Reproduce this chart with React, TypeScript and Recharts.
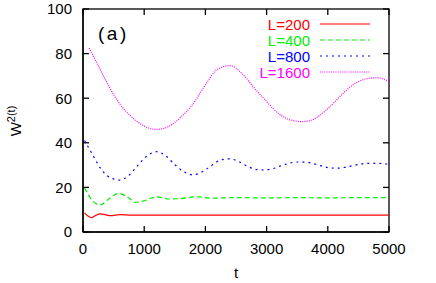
import { LineChart, Line, XAxis, YAxis } from "recharts";

const xTicks = [0, 1000, 2000, 3000, 4000, 5000];
const yTicks = [0, 20, 40, 60, 80, 100];

// L=200
const t200 = [25, 80, 140, 200, 280, 360, 450, 600, 800, 1000, 1500, 2000, 2500, 3000, 3500, 4000, 4500, 5000];
const w200 = [8.6, 7.2, 6.4, 7.3, 8.1, 7.8, 7.3, 7.8, 7.6, 7.6, 7.6, 7.6, 7.6, 7.6, 7.6, 7.6, 7.6, 7.6];

// L=400
const t400 = [25, 150, 280, 420, 580, 720, 860, 1000, 1200, 1400, 1600, 1850, 2100, 2500, 3000, 3500, 4000, 4500, 5000];
const w400 = [19.8, 14.2, 12.1, 14.8, 17.3, 15.8, 13.3, 14.0, 15.8, 14.8, 15.0, 15.8, 15.2, 15.4, 15.3, 15.4, 15.3, 15.4, 15.4];

// L=800
const t800 = [25, 150, 300, 450, 600, 750, 900, 1050, 1200, 1350, 1500, 1650, 1800, 1950, 2100, 2250, 2400, 2550, 2700, 2900, 3100, 3300, 3500, 3650, 3800, 4000, 4150, 4300, 4450, 4650, 4800, 5000];
const w800 = [41.0, 35.0, 28.0, 24.3, 23.3, 25.4, 30.0, 34.2, 36.0, 34.2, 30.2, 27.0, 25.6, 27.0, 29.8, 32.3, 32.8, 31.5, 29.3, 27.8, 28.4, 30.3, 31.4, 31.3, 30.4, 28.9, 28.6, 29.1, 30.0, 30.8, 30.8, 30.4];

// L=1600
const t1600 = [100, 250, 400, 600, 800, 1000, 1200, 1400, 1600, 1800, 2000, 2200, 2400, 2600, 2800, 3000, 3200, 3400, 3600, 3800, 4000, 4200, 4400, 4600, 4800, 5000];
const w1600 = [82.5, 74.5, 66.5, 57.5, 51.5, 47.5, 46.0, 47.3, 51.5, 57.5, 66.0, 73.0, 74.6, 71.0, 64.5, 58.5, 53.0, 50.2, 49.5, 51.0, 55.3, 60.8, 65.8, 68.5, 69.2, 67.5];

const toRows = (t: number[], w: number[]) => t.map((v, i) => ({ t: v, w: w[i] }));

const series = [
  { name: "L=200", color: "#ff0000", dash: undefined, rows: toRows(t200, w200) },
  { name: "L=400", color: "#00ee00", dash: "5 3", rows: toRows(t400, w400) },
  { name: "L=800", color: "#0000ff", dash: "2 4", rows: toRows(t800, w800) },
  { name: "L=1600", color: "#ff00ff", dash: "1 1.2", rows: toRows(t1600, w1600) },
];

const font = "'Liberation Sans', Arial, sans-serif";
const tickStyle = { fill: "#000", fontSize: 15, fontFamily: font };
const axisLine = { stroke: "#000", strokeWidth: 1.3 };

// plot box = chart size minus margins and axis sizes below
const W = 436;
const H = 283;
const box = { left: 83, top: 9, right: W - 47, bottom: H - 51 };
const TL = 6; // inward tick length, on all four sides like gnuplot

function Frame() {
  const bw = box.right - box.left;
  const bh = box.bottom - box.top;
  return (
    <g stroke="#000" strokeWidth={1.3} fill="none">
      <rect x={box.left} y={box.top} width={bw} height={bh} />
      {xTicks.map((t) => {
        const px = box.left + (t / xTicks[xTicks.length - 1]) * bw;
        return (
          <g key={"x" + t}>
            <line x1={px} x2={px} y1={box.bottom} y2={box.bottom - TL} />
            <line x1={px} x2={px} y1={box.top} y2={box.top + TL} />
          </g>
        );
      })}
      {yTicks.map((v) => {
        const py = box.bottom - (v / yTicks[yTicks.length - 1]) * bh;
        return (
          <g key={"y" + v}>
            <line x1={box.left} x2={box.left + TL} y1={py} y2={py} />
            <line x1={box.right} x2={box.right - TL} y1={py} y2={py} />
          </g>
        );
      })}
    </g>
  );
}

function LegendBox() {
  return (
    <g fontFamily={font} fontSize={15}>
      {series.map((s, i) => {
        const y = 24 + i * 16;
        return (
          <g key={s.name}>
            <text x={310} y={y + 5.5} textAnchor="end" fill={s.color}>
              {s.name}
            </text>
            <line x1={320} x2={370} y1={y} y2={y} stroke={s.color} strokeWidth={1.2} strokeDasharray={s.dash} />
          </g>
        );
      })}
    </g>
  );
}

export default function App() {
  return (
    <div style={{ position: "absolute", left: 0, top: 0, background: "#fff" }}>
      <LineChart width={W} height={H} margin={{ top: 9, right: 47, bottom: 0, left: 0 }}>
        <XAxis
          dataKey="t"
          type="number"
          domain={[0, 5000]}
          ticks={xTicks}
          allowDataOverflow
          height={51}
          tick={tickStyle}
          tickMargin={5}
          axisLine={axisLine}
          tickLine={false}
          label={{
            content: ({ viewBox }: any) => (
              <text x={viewBox.x + viewBox.width / 2} y={viewBox.y + 46} textAnchor="middle" fontSize={15} fontFamily={font} fill="#000">
                t
              </text>
            ),
          }}
        />
        <YAxis
          domain={[0, 100]}
          ticks={yTicks}
          width={83}
          tick={tickStyle}
          tickMargin={5}
          axisLine={axisLine}
          tickLine={false}
          label={{
            content: () => (
              <text x={21} y={121} transform="rotate(-90 21 121)" textAnchor="middle" fontSize={15} fontFamily={font} fill="#000">
                W
                <tspan fontSize={11} dy={-6}>2(t)</tspan>
              </text>
            ),
          }}
        />
        {series.map((s) => (
          <Line
            key={s.name}
            data={s.rows}
            dataKey="w"
            name={s.name}
            type="monotone"
            stroke={s.color}
            strokeWidth={1.2}
            strokeDasharray={s.dash}
            dot={false}
            activeDot={false}
            isAnimationActive={false}
          />
        ))}
        <Frame />
        <text x={98} y={40} fontSize={19} letterSpacing={2.5} fontFamily={font} fill="#000">
          (a)
        </text>
        <LegendBox />
      </LineChart>
    </div>
  );
}
